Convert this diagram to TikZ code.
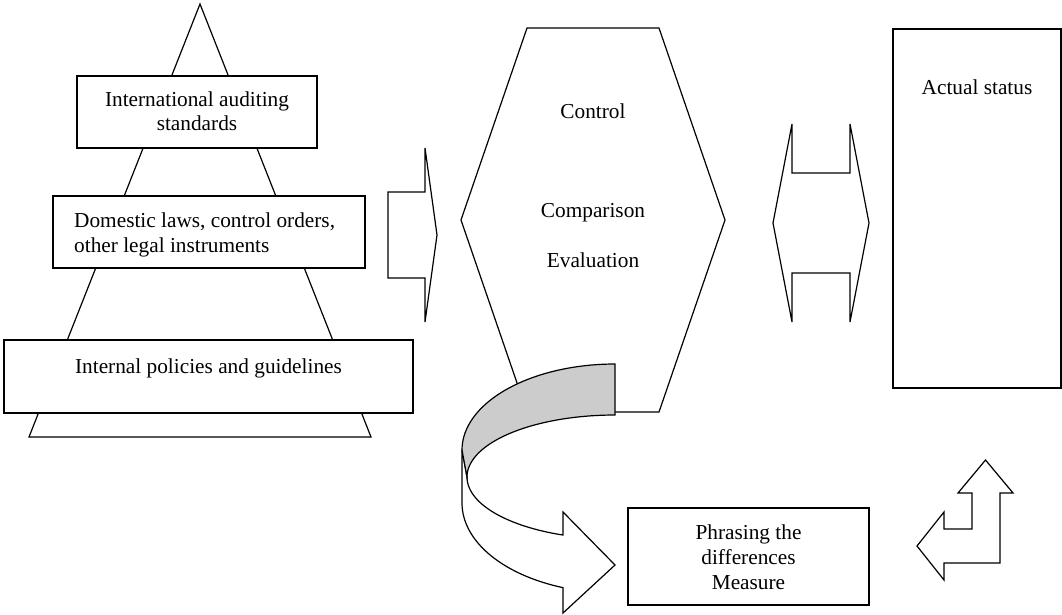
\documentclass[tikz,border=0pt]{standalone}
\usepackage{fontspec}
\setmainfont{Liberation Serif}
\begin{document}
\begin{tikzpicture}[x=1pt,y=-1pt]
\tikzset{
  shp/.style={draw=black, fill=white, line width=1.2pt, line join=miter},
  boxnode/.style={shp, rectangle, inner sep=0pt},
  txt/.style={font=\fontsize{21.3}{25}\selectfont, inner sep=0pt, anchor=base},
  txtl/.style={txt, anchor=base west}
}
\useasboundingbox (0,0) rectangle (1062,615);
% pyramid
\draw[shp] (200,4) -- (371,437) -- (29,437) -- cycle;
\node[boxnode, minimum width=240pt, minimum height=72pt] (b1) at (197,112) {};
\node[boxnode, minimum width=312pt, minimum height=72pt] (b2) at (209,232) {};
\node[boxnode, minimum width=409pt, minimum height=73pt] (b3) at (208.5,376.5) {};
\node[txt] (t1a) at (197,107) {International auditing};
\node[txt] (t1b) at (197,131) {standards};
\node[txtl] (t2a) at (74,227) {Domestic laws, control orders,};
\node[txtl] (t2b) at (74,252) {other legal instruments};
\node[txt] (t3) at (208.5,373) {Internal policies and guidelines};
% block arrow right
\draw[shp] (388,192) -- (425,192) -- (425,148) -- (437,235) -- (425,322) -- (425,278) -- (388,278) -- cycle;
% hexagon
\draw[shp] (527,28) -- (659,28) -- (725,220) -- (659,412) -- (527,412) -- (461,220) -- cycle;
\node[txt] (tc) at (593,119) {Control};
\node[txt] (tcp) at (593,217) {Comparison};
\node[txt] (tev) at (593,267) {Evaluation};
% curved arrow (white lower part)
\draw[shp] (462,450) -- (462,503)
  -- plot[domain=180:250.1, samples=40] ({615+153*cos(\x)},{503-90*sin(\x)})
  -- (563,613) -- (615,565) -- (563,512)
  -- plot[domain=249.4:180, samples=40] ({615+148*cos(\x)},{477-62*sin(\x)})
  -- cycle;
% curved arrow (gray upper part)
\draw[shp, fill=gray!40] plot[domain=90:180, samples=40] ({615+153*cos(\x)},{450-86*sin(\x)})
  -- (467,477)
  -- plot[domain=180:90, samples=40] ({615+148*cos(\x)},{477-62*sin(\x)})
  -- cycle;
% phrasing box
\node[boxnode, minimum width=241pt, minimum height=97pt] (b4) at (748.5,556.5) {};
\node[txt] (tp1) at (748.5,539) {Phrasing the};
\node[txt] (tp2) at (748.5,564) {differences};
\node[txt] (tp3) at (748.5,589) {Measure};
% double arrow
\draw[shp] (792,124) -- (792,173) -- (850,173) -- (850,124) -- (869,223) -- (850,322) -- (850,273) -- (792,273) -- (792,322) -- (773,223) -- cycle;
% actual status
\node[boxnode, minimum width=168pt, minimum height=359pt] (b5) at (977,208.5) {};
\node[txt] (ta) at (977,95) {Actual status};
% bent arrow
\draw[shp] (917,546) -- (944,512) -- (944,529) -- (972,529) -- (972,493) -- (958,493) -- (985.5,460) -- (1013,493) -- (1000,493) -- (1000,563) -- (944,563) -- (944,580) -- cycle;
\end{tikzpicture}
\end{document}
